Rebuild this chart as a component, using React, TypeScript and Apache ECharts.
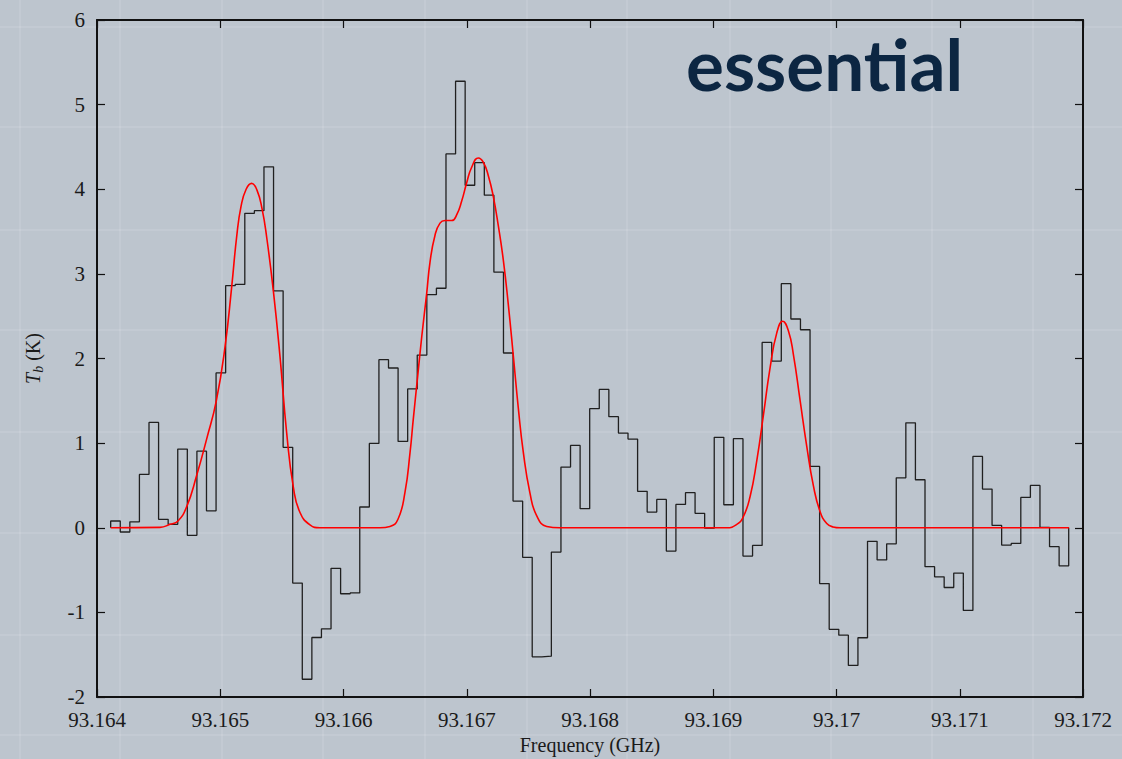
import React, { useEffect, useRef } from "react";
import * as echarts from "echarts";

// Spectrum channels (histogram steps): first channel edge and channel width in GHz
const CHANNEL_START = 93.164111;
const CHANNEL_WIDTH = 0.00007773;

// Brightness temperature per channel (K)
const tbValues: number[] = [
  0.08, -0.05, 0.07, 0.63, 1.245, 0.1, 0.04, 0.93, -0.09, 0.905,
  0.2, 1.83, 2.86, 2.875, 3.715, 3.747, 4.265, 2.8, 0.95, -0.654,
  -1.79, -1.297, -1.194, -0.48, -0.78, -0.77, 0.245, 0.997, 1.986, 1.888,
  1.02, 1.64, 2.04, 2.754, 2.83, 4.417, 5.276, 4.047, 4.314, 3.93,
  3.02, 2.065, 0.315, -0.35, -1.525, -1.517, -0.287, 0.717, 0.973, 0.225,
  1.407, 1.635, 1.312, 1.119, 1.048, 0.43, 0.185, 0.335, -0.276, 0.276,
  0.414, 0.17, -0.005, 1.068, 0.272, 1.052, -0.335, -0.209, 2.19, 1.97,
  2.884, 2.467, 2.34, 0.725, -0.66, -1.2, -1.27, -1.627, -1.3, -0.16,
  -0.38, -0.19, 0.59, 1.24, 0.567, -0.46, -0.58, -0.706, -0.536, -0.977,
  0.843, 0.457, 0.028, -0.205, -0.185, 0.358, 0.5, 0.004, -0.224, -0.45,
];

// Fitted model curve (frequency GHz, K)
const fitFreq: number[] = [
  93.164111, 93.164511, 93.164592, 93.164657, 93.164728, 93.164809, 93.16489, 93.164968,
  93.165039, 93.165093, 93.165134, 93.165169, 93.16521, 93.165255, 93.165298, 93.165339,
  93.165377, 93.16543, 93.165485, 93.165539, 93.165593, 93.165647, 93.165728, 93.165809,
  93.166296, 93.166377, 93.166442, 93.166499, 93.16654, 93.166566, 93.166599, 93.166635,
  93.166675, 93.166702, 93.166743, 93.166783, 93.166824, 93.166878, 93.166919, 93.166959,
  93.167, 93.16704, 93.167094, 93.167134, 93.167175, 93.167216, 93.167256, 93.167297,
  93.167337, 93.167378, 93.167418, 93.167459, 93.167513, 93.167568, 93.167649, 93.167757,
  93.169109, 93.169191, 93.169244, 93.169299, 93.169353, 93.169407, 93.169461, 93.169515,
  93.169564, 93.169609, 93.16965, 93.169704, 93.169759, 93.169812, 93.169867, 93.169921,
  93.169972, 93.170029, 93.171887,
];
const fitTb: number[] = [
  0, 0.005, 0.04, 0.08, 0.25, 0.62, 1.05, 1.5,
  2.14, 2.85, 3.45, 3.8, 4.0, 4.07, 3.99, 3.77,
  3.43, 2.81, 2.02, 1.12, 0.48, 0.18, 0.035, 0,
  0, 0.015, 0.1, 0.42, 0.89, 1.28, 1.75, 2.26,
  2.77, 3.14, 3.46, 3.6, 3.63, 3.63, 3.7, 3.86,
  4.08, 4.26, 4.37, 4.32, 4.16, 3.91, 3.57, 3.16,
  2.64, 2.03, 1.42, 0.89, 0.41, 0.14, 0.015, 0,
  0, 0.04, 0.13, 0.37, 0.79, 1.33, 1.89, 2.3,
  2.44, 2.33, 2.05, 1.51, 0.96, 0.5, 0.19, 0.05,
  0.01, 0, 0,
];

const X_MIN = 93.164;
const X_MAX = 93.172;
const X_STEP = 0.001;
const Y_MIN = -2;
const Y_MAX = 6;
const Y_STEP = 1;

const SERIF = "'Liberation Serif', 'DejaVu Serif', serif";

export default function App() {
  const ref = useRef<HTMLDivElement>(null);

  useEffect(() => {
    if (!ref.current) return;
    const chart = echarts.init(ref.current, undefined, { renderer: "svg" });

    const stepData: number[][] = [[CHANNEL_START, 0]];
    tbValues.forEach((v, i) => stepData.push([CHANNEL_START + i * CHANNEL_WIDTH, v]));
    stepData.push([CHANNEL_START + tbValues.length * CHANNEL_WIDTH, 0]);

    const fitData = fitFreq.map((f, i) => [f, fitTb[i]]);

    const fmtX = (v: number) => String(parseFloat(v.toFixed(3)));

    const bgLines: any[] = [];
    [20, 120, 222, 323, 425, 527, 627, 730, 831, 932, 1033].forEach((x) =>
      bgLines.push({
        type: "line",
        silent: true,
        z: -10,
        shape: { x1: x, y1: 0, x2: x, y2: 759 },
        style: { stroke: "rgba(255,255,255,0.10)", lineWidth: 2 },
      })
    );
    [27, 127, 230, 330, 432, 533, 635, 735].forEach((y) =>
      bgLines.push({
        type: "line",
        silent: true,
        z: -10,
        shape: { x1: 0, y1: y, x2: 1122, y2: y },
        style: { stroke: "rgba(255,255,255,0.10)", lineWidth: 2 },
      })
    );

    const axisLine = { show: true, onZero: false, lineStyle: { color: "#111", width: 2 } };
    const tick = { show: true, inside: true, length: 8, lineStyle: { color: "#111", width: 1.2 } };

    chart.setOption({
      animation: false,
      backgroundColor: "#bdc5ce",
      grid: {
        left: 97,
        right: 39,
        top: 20,
        bottom: 62,
        containLabel: false,
        outerBoundsMode: "none",
      },
      xAxis: [
        {
          type: "value",
          min: X_MIN,
          max: X_MAX,
          interval: X_STEP,
          position: "bottom",
          axisLine,
          axisTick: tick,
          splitLine: { show: false },
          axisLabel: {
            formatter: fmtX,
            fontFamily: SERIF,
            fontSize: 21,
            color: "#1a1a1a",
            margin: 12,
            showMinLabel: true,
            showMaxLabel: true,
          },
          name: "Frequency (GHz)",
          nameLocation: "middle",
          nameGap: 38,
          nameTextStyle: { fontFamily: SERIF, fontSize: 20, color: "#1a1a1a" },
        },
        {
          type: "value",
          min: X_MIN,
          max: X_MAX,
          interval: X_STEP,
          position: "top",
          axisLine,
          axisTick: tick,
          splitLine: { show: false },
          axisLabel: { show: false },
        },
      ],
      yAxis: [
        {
          type: "value",
          min: Y_MIN,
          max: Y_MAX,
          interval: Y_STEP,
          position: "left",
          axisLine,
          axisTick: tick,
          splitLine: { show: false },
          axisLabel: {
            fontFamily: SERIF,
            fontSize: 21,
            color: "#1a1a1a",
            margin: 12,
          },
          name: "{i|T}{s|b} (K)",
          nameLocation: "middle",
          nameGap: 52,
          nameRotate: 90,
          nameTextStyle: {
            fontFamily: SERIF,
            fontSize: 20,
            color: "#1a1a1a",
            rich: {
              i: { fontFamily: SERIF, fontSize: 20, fontStyle: "italic", color: "#1a1a1a" },
              s: {
                fontFamily: SERIF,
                fontSize: 14,
                fontStyle: "italic",
                color: "#1a1a1a",
                padding: [10, 0, 0, 0],
              },
            },
          },
        },
        {
          type: "value",
          min: Y_MIN,
          max: Y_MAX,
          interval: Y_STEP,
          position: "right",
          axisLine,
          axisTick: tick,
          splitLine: { show: false },
          axisLabel: { show: false },
        },
      ],
      graphic: [
        ...bgLines,
        {
          type: "text",
          left: 686,
          top: 28,
          z: 100,
          style: {
            text: "essential",
            fontFamily: "Lato, 'Open Sans', sans-serif",
            fontWeight: "bold",
            fontSize: 71,
            fill: "#0c2642",
          },
        },
      ],
      series: [
        {
          type: "line",
          name: "spectrum",
          xAxisIndex: 0,
          yAxisIndex: 0,
          data: stepData,
          step: "end",
          showSymbol: false,
          symbol: "none",
          lineStyle: { color: "#202020", width: 1.3 },
          z: 2,
        },
        {
          type: "line",
          name: "fit",
          xAxisIndex: 0,
          yAxisIndex: 0,
          data: fitData,
          smooth: 0.5,
          showSymbol: false,
          symbol: "none",
          lineStyle: { color: "#ff0000", width: 1.6 },
          z: 3,
        },
      ],
    });

    return () => chart.dispose();
  }, []);

  return (
    <div
      ref={ref}
      style={{ position: "fixed", left: 0, top: 0, width: 1122, height: 759 }}
    />
  );
}
